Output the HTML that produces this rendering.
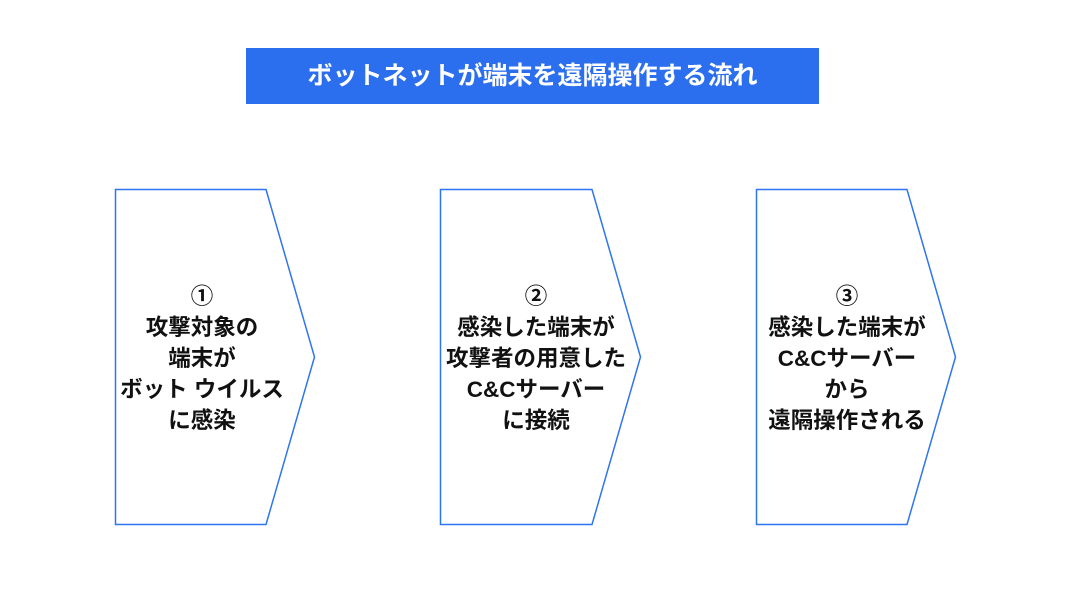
<!DOCTYPE html>
<html><head><meta charset="utf-8"><style>
body{margin:0;width:1080px;height:608px;background:#fff;overflow:hidden;position:relative;font-family:"Liberation Sans","Noto Sans CJK JP",sans-serif;}
.title{position:absolute;left:246px;top:48px;width:573px;height:56px;background:#2c6fee;color:#fff;font-weight:bold;font-size:25px;line-height:56px;text-align:center;}
.t{position:absolute;top:281px;width:240px;text-align:center;font-weight:bold;font-size:22.5px;line-height:31px;color:#111;}
</style></head><body>
<div class="title">ボットネットが端末を遠隔操作する流れ</div>
<svg width="1080" height="608" style="position:absolute;left:0;top:0">
<g fill="none" stroke="#2f74f0" stroke-width="1.5">
<polygon points="115.5,189.5 266,189.5 314.5,357 266,524.5 115.5,524.5"/>
<polygon points="440.5,189.5 592,189.5 640.5,357 592,524.5 440.5,524.5"/>
<polygon points="756.5,189.5 907,189.5 955.5,357 907,524.5 756.5,524.5"/>
</g></svg>
<div class="t" style="left:82px">①<br>攻撃対象の<br>端末が<br>ボット ウイルス<br>に感染</div>
<div class="t" style="left:416px">②<br>感染した端末が<br>攻撃者の用意した<br>C&amp;Cサーバー<br>に接続</div>
<div class="t" style="left:727px">③<br>感染した端末が<br>C&amp;Cサーバー<br>から<br>遠隔操作される</div>
</body></html>
